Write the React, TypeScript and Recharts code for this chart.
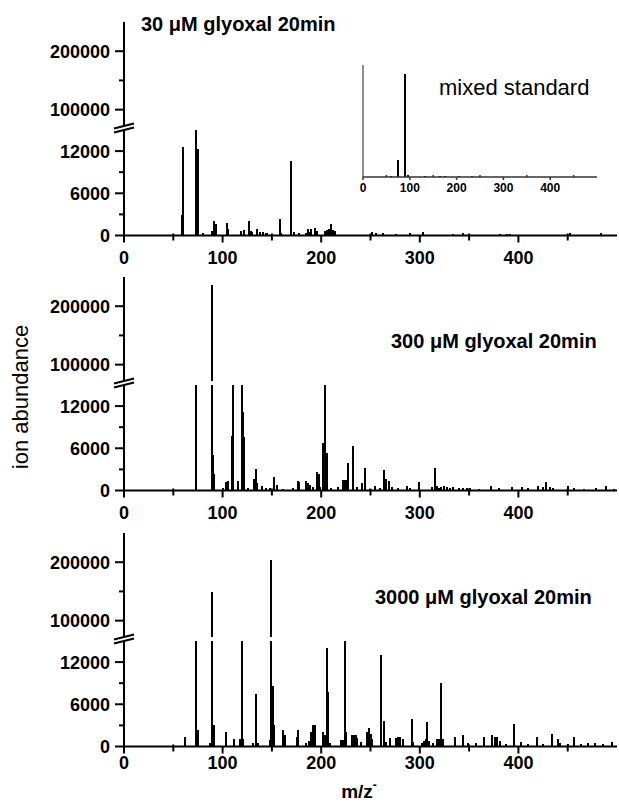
import { Bar, BarChart, XAxis, YAxis } from "recharts";

// m/z axis
const MZ_DOMAIN = [0, 500];
const MZ_TICKS = [0, 50, 100, 150, 200, 250, 300, 350, 400, 450];

// broken y axis: upper and lower segments
const UPPER_DOMAIN = [72000, 250000];
const UPPER_TICKS = [100000, 150000, 200000];
const LOWER_DOMAIN = [0, 15000];
const LOWER_TICKS = [0, 3000, 6000, 9000, 12000, 15000];
const MAJOR_Y = [0, 6000, 12000, 100000, 200000];

const TITLES = ["30 \u03bcM glyoxal 20min", "300 \u03bcM glyoxal 20min", "3000 \u03bcM glyoxal 20min"];

// [m/z, ion abundance]
const peaks30 = [
  [59, 2900], [60, 12600], [73, 15800], [74, 12300], [75, 12300], [80, 400],
  [89, 700], [91, 2100], [92, 1500], [93, 1700], [105, 1800], [106, 900],
  [119, 600], [122, 800], [127, 2100], [129, 700], [130, 500], [135, 900],
  [138, 500], [141, 500], [144, 400], [145, 300], [158, 2300], [159, 400],
  [169, 10600], [172, 500], [178, 300], [185, 400], [187, 900], [189, 500],
  [190, 900], [194, 1000], [196, 600], [204, 700], [206, 800], [208, 900],
  [210, 1700], [212, 800], [214, 600], [252, 500], [256, 300], [263, 400],
  [276, 200], [290, 300], [303, 500], [334, 200], [344, 300], [381, 200],
  [388, 200], [392, 200], [452, 300], [484, 300],
];

const peaks300 = [
  [73, 15800], [89, 237000], [90, 5000], [91, 2300], [100, 300], [104, 1200],
  [106, 1300], [110, 7700], [111, 15800], [116, 1300], [120, 15800], [121, 11200],
  [122, 7600], [126, 400], [132, 1700], [134, 3100], [135, 1000], [140, 600],
  [144, 400], [148, 300], [152, 1900], [155, 800], [161, 200], [171, 300],
  [177, 1400], [178, 1200], [185, 1400], [187, 1000], [189, 800], [192, 500],
  [196, 2600], [198, 2300], [199, 500], [201.5, 6800], [204, 15800], [206, 5400],
  [210, 300], [217, 500], [222, 1500], [224, 1500], [225, 1500], [227.5, 3900],
  [232.5, 6300], [236, 500], [241, 1000], [244, 3200], [250, 200], [255, 700],
  [260, 400], [264, 2900], [266, 1600], [269, 1300], [272, 500], [278, 300],
  [287, 600], [290, 300], [299.5, 1200], [312, 500], [315.5, 3200], [317, 600],
  [320, 400], [322, 500], [325, 700], [328, 500], [331, 400], [334, 500],
  [340, 300], [344, 300], [348, 300], [351, 300], [360, 200], [372, 700],
  [380, 400], [394, 500], [404, 500], [410, 300], [420, 700], [425, 500],
  [428, 1200], [432, 500], [435, 300], [450, 600], [456, 300], [467, 200],
  [479, 400], [489, 600], [497, 200],
];

const peaks3000 = [
  [62, 1300], [73.5, 15800], [75.5, 2300], [87, 500], [89.5, 149000], [91, 3000],
  [103, 2000], [112, 1100], [118, 1100], [119.5, 15800], [121, 1100], [131, 500],
  [134, 7500], [136, 500], [148, 900], [149.5, 204000], [151, 8600], [152, 3000],
  [161, 2300], [163, 1600], [175, 1400], [177, 2400], [185, 500], [188, 800],
  [190, 2100], [192, 3100], [194, 3000], [201.5, 2100], [204, 1600], [206, 14000],
  [207, 7800], [209, 500], [220, 900], [222, 900], [224, 15000], [225, 2000],
  [231, 1700], [233, 1700], [235, 1700], [236, 1200], [240, 600], [246, 1500],
  [247, 2000], [249, 2600], [251, 1800], [252, 1000], [261, 13000], [263.5, 3600],
  [266, 600], [270, 1200], [276, 1200], [278, 1300], [280, 1300], [283, 1000],
  [292, 3900], [293.5, 700], [302, 500], [304, 800], [306, 1000], [307.5, 3500],
  [309, 800], [313, 500], [318, 1000], [320, 1100], [322, 9000], [324, 1000],
  [336, 1300], [344, 1700], [349, 500], [357, 500], [365, 1400], [373.5, 1700],
  [376, 1300], [378, 1300], [381, 800], [387, 400], [396, 3200], [403, 600],
  [410, 300], [418.5, 1400], [425, 300], [434.5, 1800], [440, 1100], [442, 500],
  [450, 300], [456.5, 1400], [464, 400], [471, 500], [478, 500], [486, 400],
  [495, 700],
];

// inset: mixed standard (relative abundance)
const peaksStd = [
  [60, 1], [75, 15], [89, 92], [96, 1.5], [131, 0.6], [163, 0.5],
  [175, 0.5], [205, 0.8], [233, 0.6], [260, 0.4],
];
const STD_TICKS = [0, 50, 100, 150, 200, 250, 300, 350, 400, 450];

const FONT = "'Liberation Sans', Arial, Helvetica, sans-serif";
const W = 619;
const UPPER_H = 104;
const GAP = 4;
const LOWER_H = 105.5;
const PAD = 8;
const X_AXIS_H = 34;
const PANEL_TOPS = [21.5, 277, 532.5];
const LABEL_OFFSETS = [28, 28, 22];

// sharp, pixel-aligned stick for each peak
function Stick(props: any, w: number) {
  const { x, y, width, height } = props;
  if (!(height > 0) || !isFinite(x)) return <g />;
  const cx = Math.round(x + width / 2 - w / 2);
  return <rect x={cx} y={y} width={w} height={height} fill="#000" shapeRendering="crispEdges" />;
}

function YTick(props: any) {
  const { x, y, payload } = props;
  const v = payload.value;
  if (v === LOWER_DOMAIN[1]) {
    // axis break marks, centred in the gap above the lower segment
    const c = y - GAP / 2;
    return (
      <g stroke="#000" strokeWidth={2}>
        <line x1={x - 10} y1={c - 2 + 2.5} x2={x + 10} y2={c - 2 - 2.5} />
        <line x1={x - 10} y1={c + 2 + 2.5} x2={x + 10} y2={c + 2 - 2.5} />
      </g>
    );
  }
  const major = MAJOR_Y.includes(v);
  return (
    <g>
      <line x1={x - (major ? 9 : 5)} x2={x} y1={y} y2={y} stroke="#000" strokeWidth={2} />
      {major && (
        <text x={x - 14} y={y} dy="0.36em" textAnchor="end" fontSize={18} fontWeight="bold" fontFamily={FONT} fill="#000">
          {v}
        </text>
      )}
    </g>
  );
}

function MzTick(props: any) {
  const { x, y, payload, off } = props;
  const v = payload.value;
  const major = v % 100 === 0;
  return (
    <g>
      <line x1={x} x2={x} y1={major ? y : y - 2} y2={y + (major ? 7 : 5)} stroke="#000" strokeWidth={2} />
      {major && (
        <text x={x} y={y + off} textAnchor="middle" fontSize={18} fontWeight="bold" fontFamily={FONT} fill="#000">
          {v}
        </text>
      )}
    </g>
  );
}

function StdTick(props: any) {
  const { x, y, payload } = props;
  const v = payload.value;
  const major = v % 100 === 0;
  return (
    <g>
      <line x1={x} x2={x} y1={major ? y : y - 2} y2={major ? y + 3 : y} stroke="#333" strokeWidth={1.5} />
      {major && (
        <text x={x} y={y + 15} textAnchor="middle" fontSize={12} fontWeight="bold" fontFamily={FONT} fill="#000">
          {v}
        </text>
      )}
    </g>
  );
}

function Panel({ peaks, top, off }: { peaks: number[][]; top: number; off: number }) {
  const data = peaks.map(([mz, v]) => ({ mz, v }));
  const upperVal = (d: any) => (d.v > UPPER_DOMAIN[0] ? d.v : null);
  return (
    <>
      <div style={{ position: "absolute", left: 0, top }}>
        <BarChart width={W} height={UPPER_H} data={data} margin={{ top: 0, right: 2, bottom: 0, left: 0 }}>
          <XAxis type="number" dataKey="mz" domain={MZ_DOMAIN} hide />
          <YAxis
            type="number"
            domain={UPPER_DOMAIN}
            allowDataOverflow
            ticks={UPPER_TICKS}
            interval={0}
            width={124}
            tickSize={0}
            tickMargin={0}
            tickLine={false}
            axisLine={{ stroke: "#000", strokeWidth: 2 }}
            tick={(p: any) => <YTick {...p} />}
          />
          <Bar dataKey={upperVal} fill="#000" barSize={2} shape={(p: any) => Stick(p, 2)} isAnimationActive={false} />
        </BarChart>
      </div>
      <div style={{ position: "absolute", left: 0, top: top + UPPER_H + GAP - PAD }}>
        <BarChart width={W} height={PAD + LOWER_H + X_AXIS_H} data={data} margin={{ top: PAD, right: 2, bottom: 0, left: 0 }}>
          <XAxis
            type="number"
            dataKey="mz"
            domain={MZ_DOMAIN}
            ticks={MZ_TICKS}
            interval={0}
            height={X_AXIS_H}
            tickSize={0}
            tickMargin={0}
            tickLine={false}
            axisLine={{ stroke: "#000", strokeWidth: 2 }}
            tick={(p: any) => <MzTick {...p} off={off} />}
          />
          <YAxis
            type="number"
            domain={LOWER_DOMAIN}
            allowDataOverflow
            ticks={LOWER_TICKS}
            interval={0}
            width={124}
            tickSize={0}
            tickMargin={0}
            tickLine={false}
            axisLine={{ stroke: "#000", strokeWidth: 2 }}
            tick={(p: any) => <YTick {...p} />}
          />
          <Bar dataKey="v" fill="#000" barSize={2} shape={(p: any) => Stick(p, 2)} isAnimationActive={false} />
        </BarChart>
      </div>
    </>
  );
}

function Inset() {
  const data = peaksStd.map(([mz, v]) => ({ mz, v }));
  return (
    <div style={{ position: "absolute", left: 343, top: 65 }}>
      <BarChart width={254} height={112 + 22} data={data} margin={{ top: 0, right: 0, bottom: 0, left: 0 }}>
        <XAxis
          type="number"
          dataKey="mz"
          domain={MZ_DOMAIN}
          ticks={STD_TICKS}
          interval={0}
          height={22}
          tickSize={0}
          tickMargin={0}
          tickLine={false}
          axisLine={{ stroke: "#333", strokeWidth: 1.5 }}
          tick={(p: any) => <StdTick {...p} />}
        />
        <YAxis type="number" domain={[0, 100]} width={20} tick={false} tickLine={false} axisLine={{ stroke: "#444", strokeWidth: 1.2 }} />
        <Bar dataKey="v" fill="#000" barSize={1.5} shape={(p: any) => Stick(p, 1.5)} isAnimationActive={false} />
      </BarChart>
    </div>
  );
}

export default function App() {
  const panels = [peaks30, peaks300, peaks3000];
  return (
    <div style={{ position: "absolute", left: 0, top: 0, width: W, height: 805, background: "#fff", fontFamily: FONT }}>
      {panels.map((p, i) => (
        <Panel key={i} peaks={p} top={PANEL_TOPS[i]} off={LABEL_OFFSETS[i]} />
      ))}
      <Inset />
      <svg width={W} height={805} style={{ position: "absolute", left: 0, top: 0, pointerEvents: "none" }}>
        <g fontFamily={FONT} fill="#000">
          <text x={141} y={30.5} fontSize={20} fontWeight="bold">{TITLES[0]}</text>
          <text x={391} y={348} fontSize={20} fontWeight="bold">{TITLES[1]}</text>
          <text x={375} y={604} fontSize={20} fontWeight="bold">{TITLES[2]}</text>
          <text x={439} y={95} fontSize={22}>mixed standard</text>
          <text transform="translate(28,397) rotate(-90)" textAnchor="middle" fontSize={22}>ion abundance</text>
          <text x={359} y={798} textAnchor="middle" fontSize={19} fontWeight="bold">
            m/z<tspan dy={-9} fontSize={12}>-</tspan>
          </text>
        </g>
      </svg>
    </div>
  );
}
